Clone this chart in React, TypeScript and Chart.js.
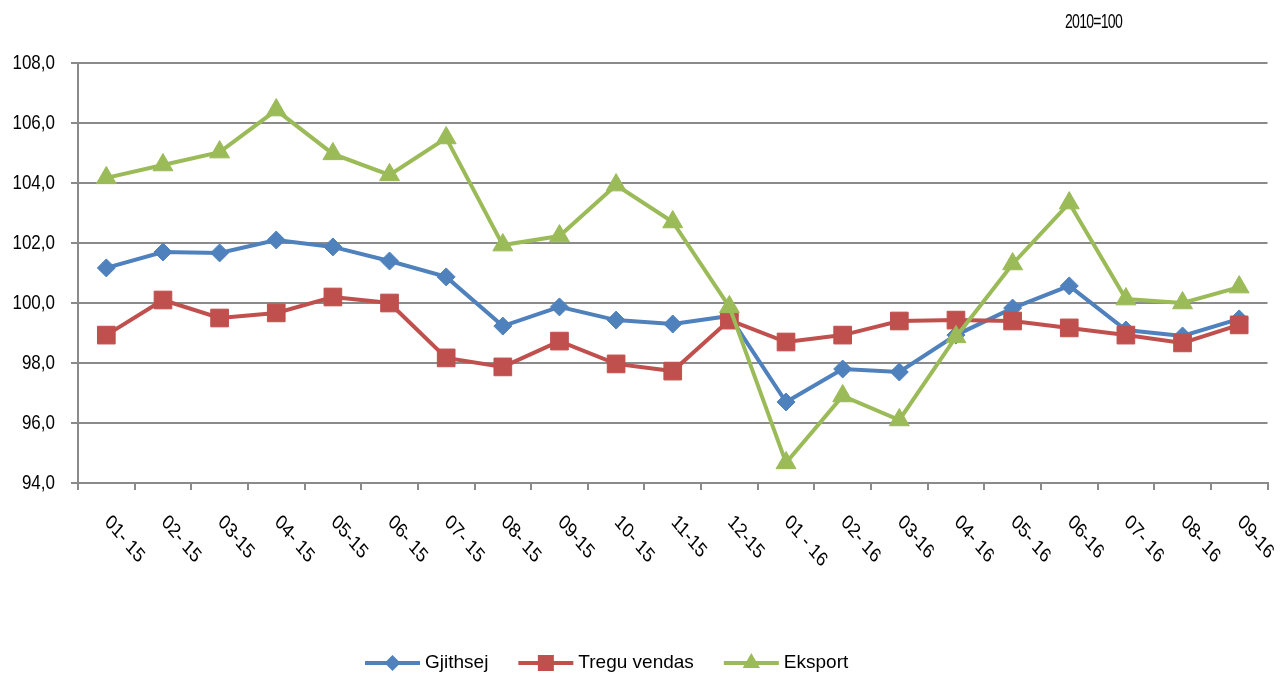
import { useEffect, useRef } from "react";
import { Chart, registerables } from "chart.js";

Chart.register(...registerables);

const categories = [
  "01- 15", "02- 15", "03-15", "04- 15", "05-15", "06- 15", "07- 15", "08- 15",
  "09-15", "10- 15", "11-15", "12-15", "01 - 16", "02- 16", "03-16", "04- 16",
  "05- 16", "06-16", "07- 16", "08- 16", "09-16",
];

const gjithsej = [
  101.17, 101.7, 101.67, 102.1, 101.87, 101.4, 100.87, 99.23, 99.87, 99.43, 99.3,
  99.57, 96.7, 97.8, 97.7, 98.93, 99.83, 100.57, 99.1, 98.9, 99.47,
];

const treguVendas = [
  98.93, 100.1, 99.5, 99.67, 100.2, 100.0, 98.17, 97.87, 98.73, 97.97, 97.73,
  99.43, 98.7, 98.93, 99.4, 99.43, 99.4, 99.17, 98.93, 98.67, 99.27,
];

const eksport = [
  104.17, 104.6, 105.03, 106.43, 104.97, 104.27, 105.5, 101.93, 102.23, 103.93,
  102.7, 99.87, 94.67, 96.9, 96.1, 98.87, 101.3, 103.33, 100.13, 100.0, 100.53,
];

const seriesNames = ["Gjithsej", "Tregu vendas", "Eksport"];
const yTickValues = [94, 96, 98, 100, 102, 104, 106, 108];
const yMin = 94;
const yMax = 108;
const yStep = 2;
const baseNote = "2010=100";

const BLUE = "#4F81BD";
const RED = "#C0504D";
const GREEN = "#9BBB59";
const GRID = "#8a8a8a";
const FONT = '"Liberation Sans", Arial, sans-serif';

const axisLabelsPlugin = {
  id: "axisLabels",
  afterDraw(chart: any) {
    const ctx = chart.ctx;
    const xs = chart.scales.x;
    const ys = chart.scales.y;
    const bottom = chart.chartArea.bottom;
    ctx.save();
    ctx.font = `17px ${FONT}`;
    ctx.fillStyle = "#000";
    ctx.textAlign = "left";
    ctx.textBaseline = "middle";
    categories.forEach((lab, i) => {
      const px = xs.getPixelForValue(i);
      ctx.save();
      ctx.translate(px + 1, bottom + 36);
      ctx.scale(1, 1.2);
      ctx.rotate((45 * Math.PI) / 180);
      ctx.fillText(lab, 0, 0);
      ctx.restore();
    });
    ctx.textAlign = "right";
    yTickValues.forEach((v) => {
      const py = ys.getPixelForValue(v);
      ctx.save();
      ctx.translate(55, py + 1);
      ctx.scale(1, 1.15);
      ctx.fillText(v.toFixed(1).replace(".", ","), 0, 0);
      ctx.restore();
    });
    ctx.restore();
  },
};

const legendPlugin = {
  id: "customLegend",
  afterDraw(chart: any) {
    const ctx = chart.ctx;
    const y = 663;
    let x = 365;
    ctx.save();
    ctx.font = `19px ${FONT}`;
    ctx.textBaseline = "middle";
    ctx.textAlign = "left";
    chart.data.datasets.forEach((ds: any) => {
      ctx.strokeStyle = ds.borderColor;
      ctx.lineWidth = 4;
      ctx.beginPath();
      ctx.moveTo(x, y);
      ctx.lineTo(x + 55, y);
      ctx.stroke();
      ctx.fillStyle = ds.borderColor;
      const cx = x + 27.5;
      ctx.beginPath();
      if (ds.pointStyle === "rectRot") {
        const r = 8;
        ctx.moveTo(cx - r, y);
        ctx.lineTo(cx, y - r);
        ctx.lineTo(cx + r, y);
        ctx.lineTo(cx, y + r);
        ctx.closePath();
      } else if (ds.pointStyle === "rect") {
        ctx.rect(cx - 8, y - 8, 16, 16);
      } else {
        const r = 10;
        ctx.moveTo(cx, y - r);
        ctx.lineTo(cx + r * 0.866, y + r * 0.5);
        ctx.lineTo(cx - r * 0.866, y + r * 0.5);
        ctx.closePath();
      }
      ctx.fill();
      ctx.fillStyle = "#000";
      ctx.fillText(ds.label, x + 60, y);
      const w = ctx.measureText(ds.label).width;
      x += 60 + w + 30;
    });
    ctx.restore();
  },
};

const notePlugin = {
  id: "note",
  afterDraw(chart: any) {
    const ctx = chart.ctx;
    ctx.save();
    ctx.fillStyle = "#000";
    ctx.textBaseline = "middle";
    ctx.textAlign = "left";
    ctx.translate(1065, 23);
    ctx.scale(0.74, 1.05);
    ctx.letterSpacing = "-1px";
    ctx.font = `19px ${FONT}`;
    ctx.fillText(baseNote, 0, 0);
    ctx.restore();
  },
};

export default function App() {
  const ref = useRef<HTMLCanvasElement | null>(null);

  useEffect(() => {
    if (!ref.current) return;
    const chart = new Chart(ref.current, {
      type: "line",
      data: {
        labels: categories,
        datasets: [
          {
            label: seriesNames[0],
            data: gjithsej,
            borderColor: BLUE,
            backgroundColor: BLUE,
            pointBackgroundColor: BLUE,
            pointBorderColor: BLUE,
            borderWidth: 4,
            pointStyle: "rectRot",
            pointRadius: 9,
            pointBorderWidth: 1,
            tension: 0,
            order: 2,
            clip: false,
          },
          {
            label: seriesNames[1],
            data: treguVendas,
            borderColor: RED,
            backgroundColor: RED,
            pointBackgroundColor: RED,
            pointBorderColor: RED,
            borderWidth: 4,
            pointStyle: "rect",
            pointRadius: 12.5,
            pointBorderWidth: 1,
            tension: 0,
            order: 1,
            clip: false,
          },
          {
            label: seriesNames[2],
            data: eksport,
            borderColor: GREEN,
            backgroundColor: GREEN,
            pointBackgroundColor: GREEN,
            pointBorderColor: GREEN,
            borderWidth: 4,
            pointStyle: "triangle",
            pointRadius: 11.5,
            pointBorderWidth: 1,
            tension: 0,
            order: 0,
            clip: false,
          },
        ] as any,
      },
      options: {
        animation: false,
        responsive: true,
        maintainAspectRatio: false,
        layout: { padding: { top: 63, right: 8, left: 0, bottom: 0 } },
        plugins: {
          legend: { display: false },
          tooltip: { enabled: false },
          title: { display: false },
        },
        scales: {
          x: {
            type: "category",
            offset: true,
            grid: {
              offset: true,
              drawOnChartArea: false,
              drawTicks: true,
              tickLength: 7,
              color: GRID,
              lineWidth: 2,
            },
            border: { display: true, color: GRID, width: 2 },
            ticks: { display: false },
            afterFit(scale: any) {
              scale.height = 191;
            },
          },
          y: {
            min: yMin,
            max: yMax,
            grid: {
              color: GRID,
              lineWidth: 2,
              drawTicks: true,
              tickLength: 7,
            },
            border: { display: true, color: GRID, width: 2 },
            ticks: {
              stepSize: yStep,
              display: false,
            },
            afterFit(scale: any) {
              scale.width = 78;
            },
          },
        },
      },
      plugins: [axisLabelsPlugin, legendPlugin, notePlugin],
    });
    return () => chart.destroy();
  }, []);

  return (
    <div style={{ position: "absolute", left: 0, top: 0, width: 1281, height: 674, background: "#fff" }}>
      <canvas ref={ref} />
    </div>
  );
}
